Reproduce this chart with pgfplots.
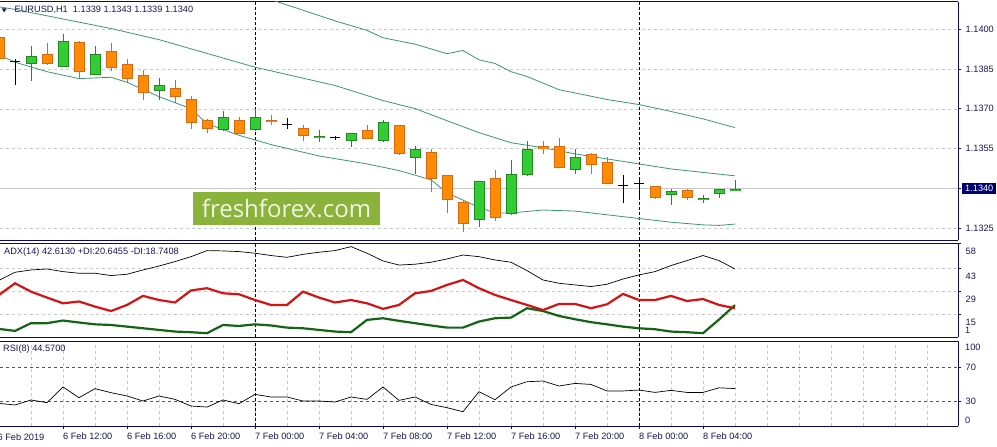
\documentclass[border=0pt]{standalone}
\usepackage{pgfplots}
\pgfplotsset{compat=1.18}
\usepackage{pgfplotstable}
\usepackage{fontspec}
\setmainfont{Liberation Sans}
\newfontfamily\wmfont{Open Sans}
\definecolor{frame}{RGB}{10,10,100}
\definecolor{txt}{RGB}{25,25,85}
\definecolor{gridc}{RGB}{200,200,200}
\definecolor{bullfill}{RGB}{50,205,50}
\definecolor{bullline}{RGB}{30,140,30}
\definecolor{bearfill}{RGB}{255,140,0}
\definecolor{bearline}{RGB}{215,105,20}
\definecolor{bandc}{RGB}{60,150,110}
\definecolor{adxred}{RGB}{210,20,20}
\definecolor{adxgreen}{RGB}{20,100,20}
\definecolor{wmgreen}{RGB}{139,178,58}
\definecolor{wmtext}{RGB}{240,246,225}
\definecolor{pricebox}{RGB}{0,0,110}
\definecolor{rsilevel}{RGB}{190,40,40}

\pgfplotstableread{
h o hi lo c
10 1.13870 1.13939 1.13807 1.13901
12 1.13860 1.13981 1.13858 1.13958
14 1.13829 1.13939 1.13827 1.13908
18 1.13769 1.13817 1.13735 1.13792
22 1.13620 1.13690 1.13618 1.13670
24 1.13620 1.13699 1.13618 1.13670
28 1.13590 1.13620 1.13577 1.13598
30 1.13577 1.13610 1.13558 1.13608
32 1.13577 1.13659 1.13575 1.13651
34 1.13516 1.13560 1.13455 1.13548
38 1.13279 1.13430 1.13256 1.13428
40 1.13306 1.13507 1.13298 1.13457
41 1.13449 1.13579 1.13447 1.13548
44 1.13468 1.13548 1.13455 1.13519
50 1.13377 1.13396 1.13339 1.13390
52 1.13357 1.13377 1.13346 1.13366
53 1.13377 1.13398 1.13364 1.13396
54 1.13390 1.13430 1.13390 1.13400
}\bull

\pgfplotstableread{
h o hi lo c
8 1.13971 1.13980 1.13885 1.13889
11 1.13908 1.13950 1.13868 1.13870
13 1.13952 1.13958 1.13819 1.13838
15 1.13920 1.13950 1.13845 1.13857
16 1.13870 1.13889 1.13800 1.13815
17 1.13829 1.13847 1.13735 1.13760
19 1.13779 1.13809 1.13724 1.13747
20 1.13737 1.13750 1.13626 1.13649
21 1.13659 1.13661 1.13607 1.13626
23 1.13659 1.13670 1.13605 1.13607
25 1.13659 1.13677 1.13639 1.13651
27 1.13629 1.13639 1.13577 1.13596
31 1.13620 1.13640 1.13586 1.13588
33 1.13639 1.13641 1.13527 1.13529
35 1.13538 1.13548 1.13386 1.13436
36 1.13450 1.13452 1.13308 1.13356
37 1.13348 1.13356 1.13236 1.13267
39 1.13439 1.13469 1.13278 1.13290
42 1.13558 1.13579 1.13529 1.13548
43 1.13559 1.13592 1.13476 1.13478
45 1.13531 1.13533 1.13455 1.13487
46 1.13500 1.13520 1.13415 1.13417
49 1.13409 1.13410 1.13362 1.13364
51 1.13396 1.13398 1.13356 1.13364
}\bear

\pgfplotstableread{
h o hi lo c
9 1.13879 1.13889 1.13788 1.13879
26 1.13639 1.13665 1.13624 1.13639
29 1.13590 1.13598 1.13583 1.13590
47 1.13409 1.13450 1.13346 1.13409
48 1.13417 1.13438 1.13364 1.13417
}\doji

\pgfplotsset{
  mt/.style={
    scale only axis, width=958pt, xmin=8.0625, xmax=67.9375,
    axis x line=box, axis y line=right,
    axis line style={-, draw=frame, line width=0.9pt},
    xtick=\empty, minor xtick={10,12,...,66}, xminorgrids=true, minor tick length=0pt,
    minor grid style={gridc, dash pattern=on 3pt off 3pt, line width=0.6pt},
    major grid style={gridc, dash pattern=on 3pt off 3pt, line width=0.6pt},
    extra x ticks={24,48}, extra x tick labels={},
    extra x tick style={grid=major, major tick length=0pt,
      major grid style={black, dash pattern=on 3pt off 2pt, line width=0.9pt}},
    ytick align=outside, major tick length=3pt,
    tick style={draw=frame, line width=0.8pt},
    yticklabel style={font=\fontsize{9.2}{11}\selectfont, text=txt, anchor=west, inner sep=0pt, xshift=4.5pt},
    clip=true,
  },
}

\begin{document}
\begin{tikzpicture}[x=1pt,y=1pt]
\useasboundingbox (0,0) rectangle (997,447);
\fill[white] (0,0) rectangle (997,447);

% ---------------- main price panel
\begin{axis}[mt, at={(0pt,206.5pt)}, anchor=south west, height=238.8pt,
  ymin=1.132030, ymax=1.141042,
  ytick={1.1325,1.1340,1.1355,1.1370,1.1385,1.1400},
  yticklabels={1.1325,{},1.1355,1.1370,1.1385,1.1400},
  ymajorgrids=true,
  extra y ticks={1.1340}, extra y tick labels={1.1340},
  extra y tick style={grid=major, major grid style={solid, gridc, line width=0.8pt},
    yticklabel style={fill=pricebox, text=white, inner xsep=3pt, inner ysep=2pt, xshift=-3.5pt}},
]
% bands
\addplot[bandc, line width=0.8pt] coordinates {(20,1.14210)(24,1.14135)(25,1.14112)(29,1.14032)(31,1.13996)(32,1.13968)(34,1.13944)(36,1.13908)(37,1.13920)(38,1.13885)(39,1.13871)(40,1.13840)(41,1.13822)(43,1.13772)(44,1.13760)(46,1.13735)(48,1.13716)(50,1.13690)(52,1.13662)(54,1.13629)};
\addplot[bandc, line width=0.8pt] coordinates {(8,1.14085)(9,1.14075)(15,1.14003)(18,1.13961)(24,1.13857)(29,1.13788)(32,1.13731)(34,1.13701)(36,1.13655)(38,1.13610)(40,1.13572)(42,1.13553)(44,1.13530)(46,1.13511)(48,1.13492)(50,1.13473)(52,1.13460)(54,1.13447)};
\addplot[bandc, line width=0.8pt] coordinates {(8,1.13903)(9,1.13876)(11,1.13840)(13,1.13814)(15,1.13819)(16,1.13800)(18,1.13746)(20,1.13700)(21,1.13644)(23,1.13600)(25,1.13565)(28,1.13522)(31,1.13492)(33,1.13467)(35,1.13432)(36,1.13383)(38,1.13328)(39,1.13307)(40,1.13307)(42,1.13318)(44,1.13314)(46,1.13300)(48,1.13286)(50,1.13272)(52,1.13262)(53,1.13260)(54,1.13265)};
% wicks
\addplot[draw=none, mark=none, error bars/.cd, y dir=both, y explicit, error mark=none,
  error bar style={draw=bullline, line width=1pt}]
  table[x=h, y expr={(\thisrow{hi}+\thisrow{lo})/2}, y error expr={(\thisrow{hi}-\thisrow{lo})/2}] {\bull};
\addplot[draw=none, mark=none, error bars/.cd, y dir=both, y explicit, error mark=none,
  error bar style={draw=bearline, line width=1pt}]
  table[x=h, y expr={(\thisrow{hi}+\thisrow{lo})/2}, y error expr={(\thisrow{hi}-\thisrow{lo})/2}] {\bear};
% bodies outline
\addplot[draw=none, mark=none, error bars/.cd, y dir=both, y explicit, error mark=none,
  error bar style={draw=bullline, line width=11pt}]
  table[x=h, y expr={(\thisrow{o}+\thisrow{c})/2}, y error expr={abs(\thisrow{c}-\thisrow{o})/2}] {\bull};
\addplot[draw=none, mark=none, error bars/.cd, y dir=both, y explicit, error mark=none,
  error bar style={draw=bearline, line width=11pt}]
  table[x=h, y expr={(\thisrow{o}+\thisrow{c})/2}, y error expr={abs(\thisrow{c}-\thisrow{o})/2}] {\bear};
% bodies fill
\addplot[draw=none, mark=none, error bars/.cd, y dir=both, y explicit, error mark=none,
  error bar style={draw=bullfill, line width=9pt}]
  table[x=h, y expr={(\thisrow{o}+\thisrow{c})/2}, y error expr={max(abs(\thisrow{c}-\thisrow{o})/2-0.0000377,0)}] {\bull};
\addplot[draw=none, mark=none, error bars/.cd, y dir=both, y explicit, error mark=none,
  error bar style={draw=bearfill, line width=9pt}]
  table[x=h, y expr={(\thisrow{o}+\thisrow{c})/2}, y error expr={max(abs(\thisrow{c}-\thisrow{o})/2-0.0000377,0)}] {\bear};
% doji
\addplot[draw=none, mark=none, error bars/.cd, y dir=both, y explicit, x dir=both, x fixed=0.34, error mark=none,
  error bar style={draw=black, line width=1pt}]
  table[x=h, y=o, y error minus expr={\thisrow{o}-\thisrow{lo}}, y error plus expr={\thisrow{hi}-\thisrow{o}}] {\doji};
\end{axis}

% ---------------- ADX panel
\begin{axis}[mt, at={(0pt,109.7pt)}, anchor=south west, height=93.6pt,
  ymin=1, ymax=58,
  ytick={15,29,43,58}, yticklabels={15,29,43,58},
  ymajorgrids=true,
  yticklabel style={yshift=-8pt},
]
\addplot[black, line width=0.7pt] coordinates {(8,35.7)(9,40.6)(10,42.0)(11,42.6)(12,41.0)(13,40.0)(14,40.0)(15,38.6)(16,39.4)(17,42.0)(18,44.4)(19,47.1)(20,50.1)(21,53.8)(22,53.6)(23,53.2)(24,52.2)(25,50.8)(26,49.7)(27,51.5)(28,52.8)(29,53.8)(30,56.2)(31,52.2)(32,47.5)(33,45.0)(34,45.5)(35,46.7)(36,48.7)(37,51.1)(38,50.1)(39,48.1)(40,46.7)(41,41.6)(42,35.9)(43,33.9)(44,32.9)(45,31.9)(46,33.3)(47,36.5)(48,39.0)(49,41.0)(50,44.7)(51,47.7)(52,50.8)(53,47.7)(54,42.6)};
\addplot[adxgreen, line width=2.2pt] coordinates {(8,6.1)(9,4.9)(10,9.6)(11,9.6)(12,11.2)(13,10.0)(14,8.9)(15,8.5)(16,7.5)(17,6.5)(18,5.5)(19,4.5)(20,4.1)(21,3.5)(22,8.5)(23,7.9)(24,8.9)(25,8.2)(26,6.9)(27,6.5)(28,5.5)(29,4.5)(30,4.1)(31,11.6)(32,12.6)(33,11.0)(34,9.6)(35,8.2)(36,6.9)(37,6.9)(38,10.6)(39,12.6)(40,13.0)(41,18.7)(42,17.0)(43,14.0)(44,12.0)(45,10.2)(46,8.9)(47,7.5)(48,6.5)(49,5.9)(50,4.5)(51,4.1)(52,3.5)(53,11.8)(54,20.6)};
\addplot[adxred, line width=2.2pt] coordinates {(8,26.8)(9,33.9)(10,28.8)(11,25.2)(12,21.7)(13,22.8)(14,19.7)(15,17.0)(16,20.7)(17,26.2)(18,23.7)(19,22.2)(20,29.5)(21,30.9)(22,27.8)(23,27.2)(24,23.7)(25,20.7)(26,20.7)(27,28.8)(28,25.2)(29,22.2)(30,23.7)(31,21.7)(32,18.3)(33,20.7)(34,27.8)(35,29.2)(36,32.9)(37,35.9)(38,30.9)(39,26.8)(40,23.7)(41,20.7)(42,17.6)(43,21.3)(44,21.3)(45,18.7)(46,21.1)(47,27.4)(48,23.7)(49,23.7)(50,26.2)(51,23.1)(52,24.3)(53,20.7)(54,18.7)};
\end{axis}

% ---------------- RSI panel
\begin{axis}[mt, at={(0pt,20.5pt)}, anchor=south west, height=85pt,
  ymin=0, ymax=100,
  ytick={30,70}, yticklabels={30,70},
  ymajorgrids=true,
  major grid style={rsilevel, dash pattern=on 3pt off 3pt, line width=0.6pt},
  xtick={12,16,...,52},
  xticklabels={6 Feb 12:00,6 Feb 16:00,6 Feb 20:00,7 Feb 00:00,7 Feb 04:00,7 Feb 08:00,7 Feb 12:00,7 Feb 16:00,7 Feb 20:00,8 Feb 00:00,8 Feb 04:00},
  xtick pos=left, xtick align=outside,
  xticklabel style={font=\fontsize{9.2}{11}\selectfont, text=txt, anchor=north west, inner sep=0pt, yshift=-3pt},
]
\addplot[black, line width=0.7pt] coordinates {(8,27.2)(9,25.3)(10,31.2)(11,28.0)(12,46.5)(13,33.9)(14,44.5)(15,39.8)(16,35.9)(17,30.0)(18,35.9)(19,31.9)(20,24.1)(21,22.9)(22,31.2)(23,26.8)(24,37.8)(25,34.7)(26,34.7)(27,30.0)(28,30.0)(29,28.8)(30,34.7)(31,31.9)(32,46.5)(33,30.7)(34,34.7)(35,26.0)(36,22.1)(37,17.4)(38,40.9)(39,31.5)(40,46.5)(41,52.7)(42,53.5)(43,47.6)(44,50.7)(45,49.5)(46,41.8)(47,41.8)(48,42.9)(49,40.1)(50,42.5)(51,40.1)(52,40.1)(53,45.5)(54,44.6)};
\end{axis}

% ---------------- texts
\fill[txt] (1.7,438.7) -- (6.7,438.7) -- (4.2,434.7) -- cycle;
\node[anchor=west, inner sep=0pt, text=txt, font=\fontsize{9.2}{11}\selectfont] at (14.5,437) {EURUSD,H1\ \ 1.1339 1.1343 1.1339 1.1340};
\node[anchor=west, inner sep=0pt, text=txt, font=\fontsize{9.2}{11}\selectfont] at (4,194.7) {ADX(14) 42.6130 +DI:20.6455 -DI:18.7408};
\node[anchor=west, inner sep=0pt, text=txt, font=\fontsize{9.2}{11}\selectfont] at (3,98) {RSI(8) 44.5700};
\node[anchor=west, inner sep=0pt, text=txt, font=\fontsize{9.2}{11}\selectfont] at (965,117) {1};
\node[anchor=west, inner sep=0pt, text=txt, font=\fontsize{9.2}{11}\selectfont] at (965,99.3) {100};
\node[anchor=west, inner sep=0pt, text=txt, font=\fontsize{9.2}{11}\selectfont] at (965,27) {0};
\node[anchor=north west, inner sep=0pt, text=txt, font=\fontsize{9.2}{11}\selectfont] at (-2.5,13.5) {6 Feb 2019};
\draw[frame, line width=0.8pt] (-1,20.5) -- (-1,16.5);
\node[fill=wmgreen, text=wmtext, minimum width=187pt, minimum height=33.5pt, inner sep=0pt,
  font=\wmfont\fontsize{24}{28}\selectfont] at (286.5,238.3) {freshforex.com};
\end{tikzpicture}
\end{document}
